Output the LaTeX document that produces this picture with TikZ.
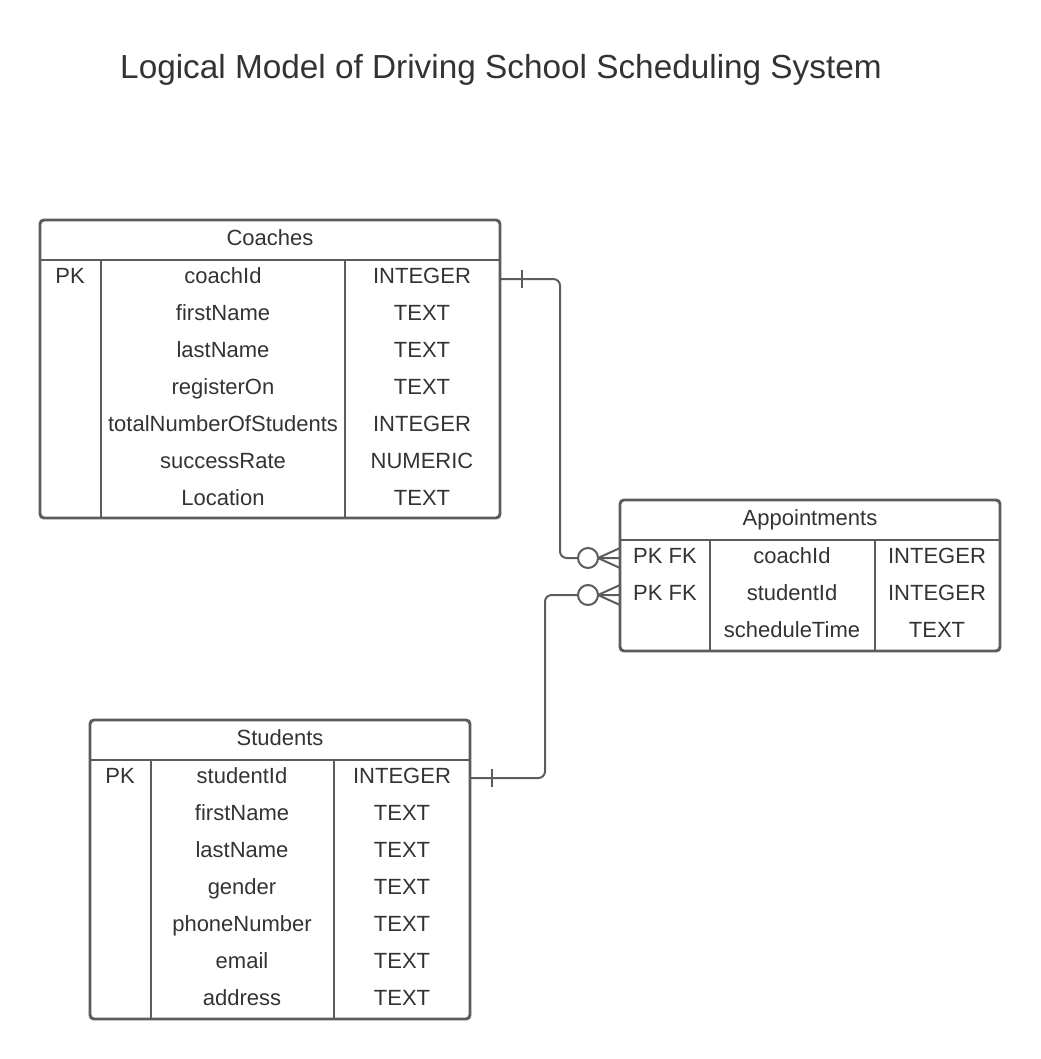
\documentclass[tikz,border=0pt]{standalone}
\usepackage{fontspec}
\setmainfont{Liberation Sans}
\definecolor{lineGray}{RGB}{92,92,92}
\definecolor{textGray}{RGB}{51,51,51}

\begin{document}
\begin{tikzpicture}[x=0.75pt,y=0.75pt,yscale=-1,xscale=1,
    cell/.style={anchor=base,inner sep=0pt,text=textGray,font=\fontsize{16.5}{20}\selectfont},
    tbl/.style={draw=lineGray,line width=2.2pt,rounded corners=3pt},
    sep/.style={draw=lineGray,line width=2.2pt},
    rel/.style={draw=lineGray,line width=1.5pt}]
    \useasboundingbox (0,0) rectangle (1040,1059);

    % Title
    \node [anchor=base,inner sep=0pt,text=textGray,font=\fontsize{25}{30}\selectfont] (title) at (501,79) {Logical Model of Driving School Scheduling System};

    %Shape: Table Coaches
    \draw [tbl] (40,220) rectangle (500,518) ;
    \draw [sep] (40,260) -- (500,260) ;
    \draw [sep] (101,260) -- (101,518) ;
    \draw [sep] (345,260) -- (345,518) ;
    %Shape: Table Appointments
    \draw [tbl] (620,500) rectangle (1000,651) ;
    \draw [sep] (620,540) -- (1000,540) ;
    \draw [sep] (710,540) -- (710,651) ;
    \draw [sep] (875,540) -- (875,651) ;
    %Shape: Table Students
    \draw [tbl] (90,720) rectangle (470,1019) ;
    \draw [sep] (90,760) -- (470,760) ;
    \draw [sep] (151,760) -- (151,1019) ;
    \draw [sep] (334,760) -- (334,1019) ;

    % Text Node: Coaches
    \node [cell] (coachesTitle) at (270,245) {Coaches};
    \node [cell] (cPK) at (70,283) {PK};
    \node [cell] (cCoachId) at (223,283) {coachId};
    \node [cell] (cCoachIdType) at (422,283) {INTEGER};
    \node [cell] (cFirstName) at (223,320) {firstName};
    \node [cell] (cFirstNameType) at (422,320) {TEXT};
    \node [cell] (cLastName) at (223,357) {lastName};
    \node [cell] (cLastNameType) at (422,357) {TEXT};
    \node [cell] (cRegisterOn) at (223,394) {registerOn};
    \node [cell] (cRegisterOnType) at (422,394) {TEXT};
    \node [cell] (cTotal) at (223,431) {totalNumberOfStudents};
    \node [cell] (cTotalType) at (422,431) {INTEGER};
    \node [cell] (cSuccess) at (223,468) {successRate};
    \node [cell] (cSuccessType) at (422,468) {NUMERIC};
    \node [cell] (cLocation) at (223,505) {Location};
    \node [cell] (cLocationType) at (422,505) {TEXT};

    % Text Node: Appointments
    \node [cell] (apptTitle) at (810,525) {Appointments};
    \node [cell] (aKeyA) at (665,563) {PK FK};
    \node [cell] (aCoachId) at (792,563) {coachId};
    \node [cell] (aCoachIdType) at (937,563) {INTEGER};
    \node [cell] (aKeyB) at (665,600) {PK FK};
    \node [cell] (aStudentId) at (792,600) {studentId};
    \node [cell] (aStudentIdType) at (937,600) {INTEGER};
    \node [cell] (aSchedule) at (792,637) {scheduleTime};
    \node [cell] (aScheduleType) at (937,637) {TEXT};

    % Text Node: Students
    \node [cell] (studentsTitle) at (280,745) {Students};
    \node [cell] (sPK) at (120,783) {PK};
    \node [cell] (sStudentId) at (242,783) {studentId};
    \node [cell] (sStudentIdType) at (402,783) {INTEGER};
    \node [cell] (sFirstName) at (242,820) {firstName};
    \node [cell] (sFirstNameType) at (402,820) {TEXT};
    \node [cell] (sLastName) at (242,857) {lastName};
    \node [cell] (sLastNameType) at (402,857) {TEXT};
    \node [cell] (sGender) at (242,894) {gender};
    \node [cell] (sGenderType) at (402,894) {TEXT};
    \node [cell] (sPhone) at (242,931) {phoneNumber};
    \node [cell] (sPhoneType) at (402,931) {TEXT};
    \node [cell] (sEmail) at (242,968) {email};
    \node [cell] (sEmailType) at (402,968) {TEXT};
    \node [cell] (sAddress) at (242,1005) {address};
    \node [cell] (sAddressType) at (402,1005) {TEXT};

    % Connector ends
    \coordinate (coachesOut) at (500,279);
    \coordinate (bendA) at (560,420);
    \coordinate (apptCoachIn) at (620,558);
    \coordinate (studentsOut) at (470,778);
    \coordinate (bendB) at (545,700);
    \coordinate (apptStudentIn) at (620,595);

    %Curve Lines: Coaches to Appointments
    \draw [rel,rounded corners=5pt] (coachesOut) -| (bendA) |- (apptCoachIn) ;
    \draw [rel] ([xshift=16.5pt]coachesOut) ++(0,-9) -- ++(0,18) ;
    \draw [rel,fill=white] ([xshift=-24pt]apptCoachIn) circle [radius=7.5pt] ;
    \draw [rel] ([xshift=-16.5pt]apptCoachIn) -- ++(22,-10) ;
    \draw [rel] ([xshift=-16.5pt]apptCoachIn) -- ++(22,0) ;
    \draw [rel] ([xshift=-16.5pt]apptCoachIn) -- ++(22,10) ;
    %Curve Lines: Students to Appointments
    \draw [rel,rounded corners=5pt] (studentsOut) -| (bendB) |- (apptStudentIn) ;
    \draw [rel] ([xshift=16.5pt]studentsOut) ++(0,-9) -- ++(0,18) ;
    \draw [rel,fill=white] ([xshift=-24pt]apptStudentIn) circle [radius=7.5pt] ;
    \draw [rel] ([xshift=-16.5pt]apptStudentIn) -- ++(22,-10) ;
    \draw [rel] ([xshift=-16.5pt]apptStudentIn) -- ++(22,0) ;
    \draw [rel] ([xshift=-16.5pt]apptStudentIn) -- ++(22,10) ;
\end{tikzpicture}
\end{document}
